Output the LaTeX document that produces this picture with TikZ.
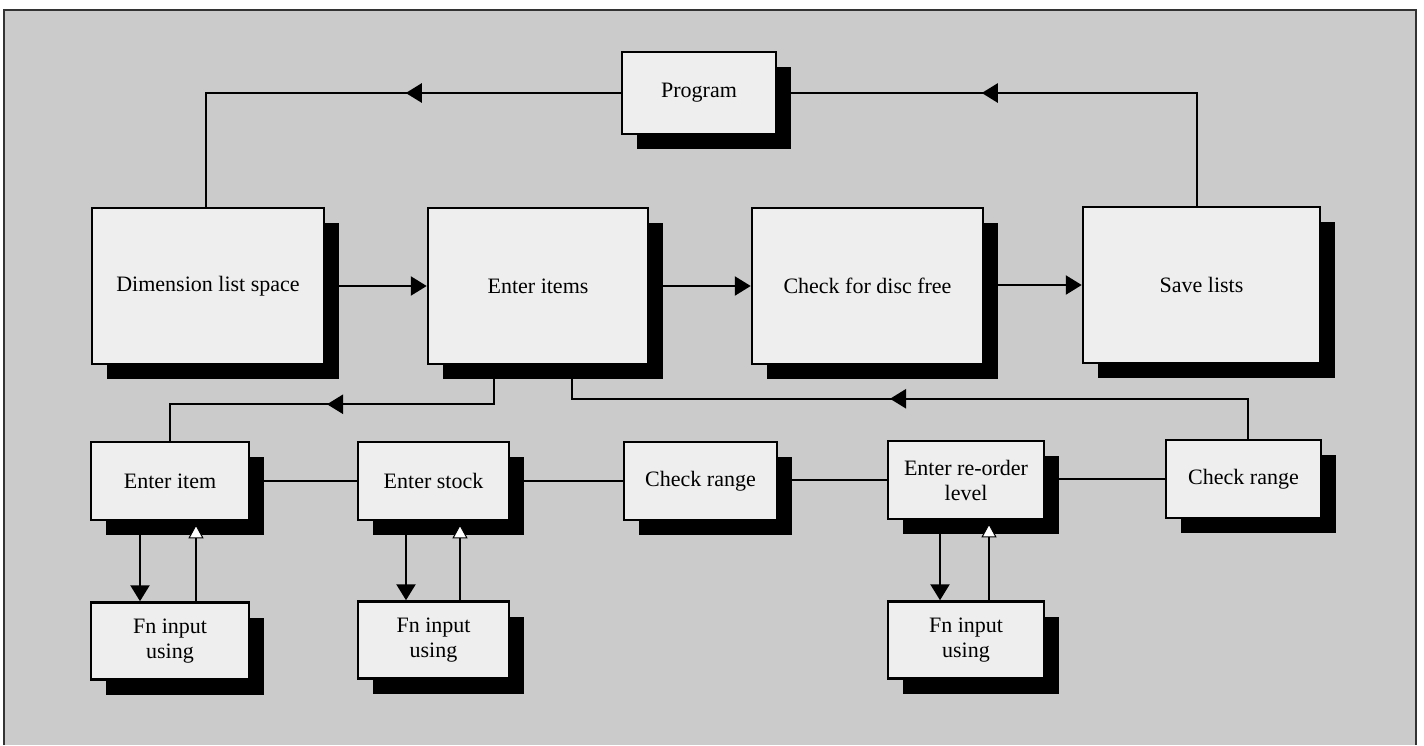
\documentclass[tikz,border=0pt]{standalone}
\usepackage{fontspec}
\setmainfont{Liberation Serif}
\usetikzlibrary{arrows.meta,shadows,decorations.markings}
\definecolor{bgray}{RGB}{203,203,203}
\definecolor{boxfill}{RGB}{238,238,238}
\begin{document}
\begin{tikzpicture}[x=1pt,y=-1pt,
  box/.style={draw=black, line width=2.5pt, fill=boxfill, inner sep=4pt, align=center,
    font=\fontsize{22}{25}\selectfont,
    drop shadow={shadow xshift=15pt, shadow yshift=-15pt, fill=black, opacity=1}},
  bigbox/.style={box, minimum height=156pt},
  smallbox/.style={box, minimum height=78pt},
  fnbox/.style={box, minimum height=77pt},
  link/.style={line width=2.4pt},
  thinlink/.style={line width=1.8pt},
  fhead/.style={-{Triangle[length=16pt,width=19pt]}},
  ohead/.style={-{Triangle[length=14pt,width=15pt,fill=white,line width=1pt]}, shorten >=3pt},
  midarrow/.style={postaction={decorate, decoration={markings,
      mark=at position #1 with {\arrow{Triangle[length=16pt,width=19pt]}}}}}
]
\useasboundingbox (0,0) rectangle (1424,745);
\fill[white] (0,0) rectangle (1424,745);
\fill[bgray] (4,10) rectangle (1416,745);
\draw[line width=1.2pt, black!80] (4,745) -- (4,10) -- (1416,10) -- (1416,745);

% top row
\node[box, minimum width=154pt, minimum height=82pt] (Program) at (699,93) {Program};
\node[bigbox, minimum width=232pt] (Dim) at (208,286) {Dimension list space};
\node[bigbox, minimum width=220pt] (EnterItems) at (538,286) {Enter items};
\node[bigbox, minimum width=231pt] (CheckDisc) at (867.5,286) {Check for disc free};
\node[bigbox, minimum width=237pt] (Save) at (1201.5,285) {Save lists};

% middle row
\node[smallbox, minimum width=158pt] (EnterItem) at (170,481) {Enter item};
\node[smallbox, minimum width=151pt] (EnterStock) at (433.5,481) {Enter stock};
\node[smallbox, minimum width=153pt] (Check1) at (700.5,481) {Check range};
\node[smallbox, minimum width=156pt] (Reorder) at (966,480) {Enter re-order\\level};
\node[smallbox, minimum width=155pt] (Check2) at (1243.5,479) {Check range};

% bottom row
\node[fnbox, minimum width=158pt] (Fn1) at (170,641) {Fn input\\using};
\node[fnbox, minimum width=151pt] (Fn2) at (433.5,640) {Fn input\\using};
\node[fnbox, minimum width=156pt] (Fn3) at (966,640) {Fn input\\using};

% top loop connectors
\draw[link, midarrow=215pt] (Program.west) -| ([xshift=-2pt]Dim.north);
\draw[link, midarrow=328pt] ([xshift=-4.5pt]Save.north) |- (Program.east);

% main flow
\draw[link, fhead] (Dim.east) -- (EnterItems.west);
\draw[link, fhead] (EnterItems.east) -- (CheckDisc.west);
\draw[link, fhead] (CheckDisc.east |- Save.west) -- (Save.west);

% links from Enter items to the lower row
\draw[link, midarrow=206pt] ([xshift=-44pt]EnterItems.south) -- ++(0,39) -| (EnterItem.north);
\draw[link, midarrow=398pt] ([xshift=4.5pt]Check2.north) -- ++(0,-40) -| ([xshift=34pt]EnterItems.south);

% middle row links
\draw[thinlink] (EnterItem.east) -- (EnterStock.west);
\draw[thinlink] (EnterStock.east) -- (Check1.west);
\draw[thinlink] (Check1.east |- Reorder.west) -- (Reorder.west);
\draw[thinlink] (Reorder.east |- Check2.west) -- (Check2.west);

% vertical arrows to and from the function boxes
\draw[link, fhead] ([xshift=-30pt]EnterItem.south) -- ([xshift=-30pt]Fn1.north);
\draw[link, ohead] ([xshift=26pt]Fn1.north) -- ([xshift=26pt]EnterItem.south);
\draw[link, fhead] ([xshift=-27.5pt]EnterStock.south) -- ([xshift=-27.5pt]Fn2.north);
\draw[link, ohead] ([xshift=26.5pt]Fn2.north) -- ([xshift=26.5pt]EnterStock.south);
\draw[link, fhead] ([xshift=-26pt]Reorder.south) -- ([xshift=-26pt]Fn3.north);
\draw[link, ohead] ([xshift=23pt]Fn3.north) -- ([xshift=23pt]Reorder.south);
\end{tikzpicture}
\end{document}
